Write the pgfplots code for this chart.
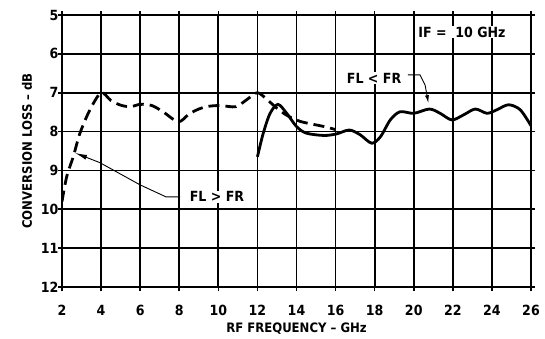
\documentclass[border=0pt]{standalone}
\usepackage{fontspec}
\setmainfont{DejaVu Sans Condensed}
\usepackage{pgfplots}
\pgfplotsset{compat=1.18}
\usetikzlibrary{arrows.meta}
\begin{document}
\begin{tikzpicture}
\begin{axis}[
  scale only axis, width=469pt, height=272pt,
  xmin=2, xmax=26, ymin=5, ymax=12, y dir=reverse,
  xtick={2,4,...,26}, ytick={5,6,...,12},
  xmajorgrids=false, ymajorgrids=true,
  major grid style={draw=black, line width=1.6pt, solid},
  axis line style={line width=2.2pt},
  tick style={black, line width=1.6pt}, major tick length=4pt, tick align=outside,
  /pgf/number format/assume math mode=true,
  ticklabel style={font=\bfseries\fontsize{14}{14}\selectfont},
  xticklabel style={yshift=-11pt},
  yticklabel style={xshift=4pt},
  xlabel={RF FREQUENCY -- GHz}, ylabel={CONVERSION LOSS -- dB},
  label style={font=\bfseries\fontsize{13}{13}\selectfont},
  xlabel style={yshift=0pt},
  ylabel style={yshift=2pt},
]
\coordinate (bl) at (axis cs:2,12);
\coordinate (tr) at (axis cs:26,5);
\pgfplotsinvokeforeach{4,6,8,10,12,14,16,18,20,22,24}{
  \draw[black, line width=1.7pt] (axis cs:#1,5) -- (axis cs:#1,12);
}
\addplot[black, line width=2.8pt, dash pattern=on 11pt off 6pt, smooth, tension=0.5] coordinates {
(2,9.8)(2.24,9.16)(2.58,8.64)(2.92,8.04)(3.43,7.44)(4.0,7.0)(4.5,7.2)(5.0,7.32)(5.5,7.36)(6.0,7.3)(6.6,7.33)(7.2,7.5)(7.95,7.75)(8.5,7.55)(9.0,7.42)(9.5,7.35)(10.1,7.33)(10.9,7.36)(11.45,7.18)(12.0,7.0)(12.5,7.18)(13.0,7.4)(13.5,7.58)(14.2,7.74)(15.4,7.87)(16,7.95)
};
\addplot[black, line width=2.8pt, smooth, tension=0.5] coordinates {
(12,8.65)(12.3,8.04)(12.65,7.53)(13.05,7.3)(13.5,7.53)(14,7.87)(14.5,8.04)(15.4,8.1)(16.05,8.06)(16.7,7.96)(17.25,8.08)(17.85,8.3)(18.3,8.13)(18.8,7.7)(19.3,7.49)(20,7.53)(20.8,7.42)(21.35,7.53)(21.95,7.7)(22.55,7.57)(23.15,7.42)(23.75,7.53)(24.25,7.44)(24.85,7.31)(25.45,7.44)(26,7.85)
};
\node[fill=white, inner sep=1pt, font=\bfseries\fontsize{14}{14}\selectfont] at (axis cs:9.93,9.68) {FL > FR};
\draw[line width=0.9pt, -{Latex[length=12pt,width=5pt]}] (axis cs:8.05,9.68) -- (axis cs:7.32,9.68) -- (axis cs:5.99,9.37) -- (axis cs:3.94,8.8) -- (axis cs:2.67,8.55);
\node[fill=white, inner sep=1pt, font=\bfseries\fontsize{14}{14}\selectfont] at (axis cs:17.97,6.62) {FL < FR};
\draw[line width=0.9pt, -{Latex[length=8pt,width=4pt]}] (axis cs:19.7,6.54) -- (axis cs:20.32,6.54) -- (axis cs:20.58,6.8) -- (axis cs:20.75,7.27);
\node[fill=white, inner sep=1pt, font=\bfseries\fontsize{14}{14}\selectfont] at (axis cs:22.47,5.44) {IF =\ \ 10 GHz};
\end{axis}
\pgfresetboundingbox
\path[use as bounding box] ([shift={(-62pt,-52pt)}]bl) rectangle ([shift={(14pt,15pt)}]tr);
\end{tikzpicture}
\end{document}
